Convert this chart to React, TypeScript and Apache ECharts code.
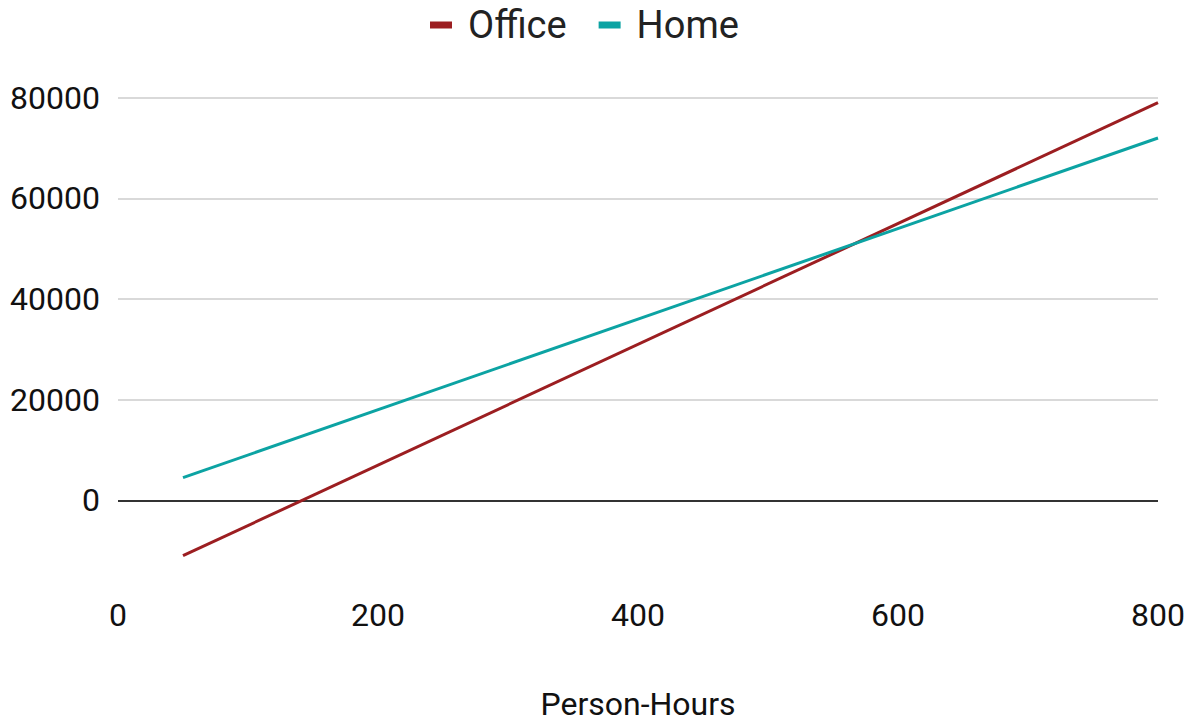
import React, { useEffect, useRef } from "react";
import * as echarts from "echarts";

// Person-hours at which each cost line is evaluated
const personHours = [50, 800];
// Cost for each location at those person-hours
const officeCost = [-11000, 79000];
const homeCost = [4500, 72000];

const seriesNames = ["Office", "Home"];
const seriesColors = ["#9c1e21", "#0ca3a3"];

const xTicks = { min: 0, max: 800, interval: 200 };
const yTicks = { min: -20000, max: 80000, interval: 20000 };

const FONT = "Roboto, 'Noto Sans', sans-serif";

export default function App() {
  const ref = useRef<HTMLDivElement>(null);

  useEffect(() => {
    document.body.style.margin = "0";
    const chart = echarts.init(ref.current!, undefined, { renderer: "svg" });
    const pairs = (ys: number[]) => personHours.map((x, i) => [x, ys[i]]);
    chart.setOption({
      animation: false,
      backgroundColor: "#ffffff",
      textStyle: { fontFamily: FONT },
      legend: {
        top: 1,
        left: 425,
        icon: "rect",
        itemWidth: 22,
        itemHeight: 7,
        itemGap: 32,
        textStyle: {
          fontSize: 38,
          color: "#222222",
          fontFamily: FONT,
          padding: [0, 0, 0, 11],
        },
        data: seriesNames,
      },
      grid: { left: 118, width: 1040, top: 97.7, height: 509.5, containLabel: false },
      xAxis: {
        type: "value",
        min: xTicks.min,
        max: xTicks.max,
        interval: xTicks.interval,
        name: "Person-Hours",
        nameLocation: "middle",
        nameGap: 87,
        nameTextStyle: { fontSize: 32, color: "#111111", fontFamily: FONT },
        axisLine: { show: false, onZero: false },
        axisTick: { show: false },
        splitLine: { show: false },
        axisLabel: { fontSize: 32, color: "#111111", margin: -2, fontFamily: FONT },
      },
      yAxis: {
        type: "value",
        min: yTicks.min,
        max: yTicks.max,
        interval: yTicks.interval,
        axisLine: { show: false },
        axisTick: { show: false },
        splitLine: {
          show: true,
          showMinLine: false,
          lineStyle: { color: "#cccccc", width: 1.5 },
        },
        axisLabel: {
          fontSize: 32,
          color: "#111111",
          margin: 18,
          fontFamily: FONT,
          showMinLabel: false,
          formatter: (v: number) => String(v),
        },
      },
      series: [
        {
          name: seriesNames[0],
          type: "line",
          data: pairs(officeCost),
          showSymbol: false,
          symbol: "none",
          color: seriesColors[0],
          lineStyle: { width: 3, color: seriesColors[0] },
          z: 3,
          markLine: {
            silent: true,
            symbol: "none",
            label: { show: false },
            lineStyle: { color: "#333333", width: 2, type: "solid" },
            data: [{ yAxis: 0 }],
            z: 1,
          },
        },
        {
          name: seriesNames[1],
          type: "line",
          data: pairs(homeCost),
          showSymbol: false,
          symbol: "none",
          color: seriesColors[1],
          lineStyle: { width: 3, color: seriesColors[1] },
          z: 3,
        },
      ],
    });
    return () => chart.dispose();
  }, []);

  return (
    <div
      ref={ref}
      style={{ position: "fixed", left: 0, top: 0, width: 1190, height: 725 }}
    />
  );
}
